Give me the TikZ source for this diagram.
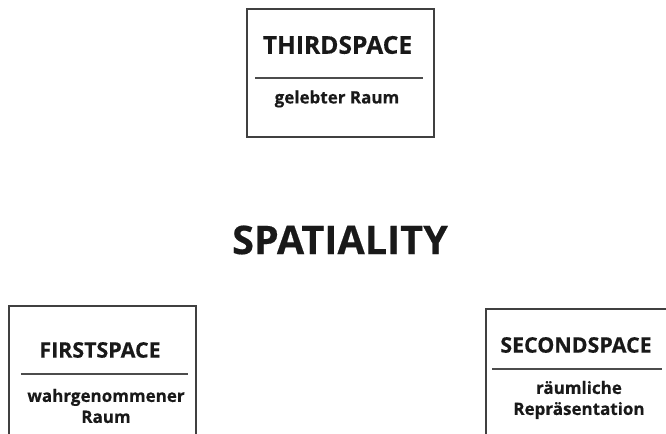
\documentclass[tikz,border=0pt]{standalone}
\usepackage{fontspec}
\setmainfont{Open Sans}[BoldFeatures={FakeBold=0.4}]
\usetikzlibrary{positioning}

\begin{document}
\begin{tikzpicture}[
  x=0.5pt, y=-0.5pt,
  spacebox/.style={draw=black!75, line width=0.8pt, minimum width=93.5pt, minimum height=64pt, anchor=north west},
  spacetitle/.style={font=\bfseries\fontsize{10.7}{13}\selectfont, text=black!90, inner sep=0pt},
  spacesub/.style={font=\bfseries\fontsize{8.5}{10.5}\selectfont, align=center, text=black!90, inner sep=0pt},
  sep/.style={draw=black!70, line width=0.8pt}
]
\clip (0,0) rectangle (666,434);
\fill[white] (0,0) rectangle (666,434);

% thirdspace
\node[spacebox] (third) at (246,8) {};
\node[spacetitle, font=\bfseries\fontsize{12.3}{14}\selectfont] (thirdtitle) at (337.5,45) {THIRDSPACE};
\draw[sep] (255,78) -- (423,78);
\node[spacesub] (thirdsub) at (337,99) {gelebter Raum};

% centre
\node[font=\bfseries\fontsize{19.8}{22}\selectfont, text=black!90] (spatiality) at (340,240) {SPATIALITY};

% firstspace
\node[spacebox, minimum height=70pt] (first) at (8,305) {};
\node[spacetitle] (firsttitle) at (100,350) {FIRSTSPACE};
\draw[sep] (21,374) -- (188,374);
\node[spacesub] (firstsub) at (106,406) {wahrgenommener\\Raum};

% secondspace
\node[spacebox, minimum height=70pt] (second) at (485,308) {};
\node[spacetitle] (secondtitle) at (576,345) {SECONDSPACE};
\draw[sep] (492,369) -- (662,369);
\node[spacesub] (secondsub) at (579,400) {räumliche\\Repräsentation};
\end{tikzpicture}
\end{document}
